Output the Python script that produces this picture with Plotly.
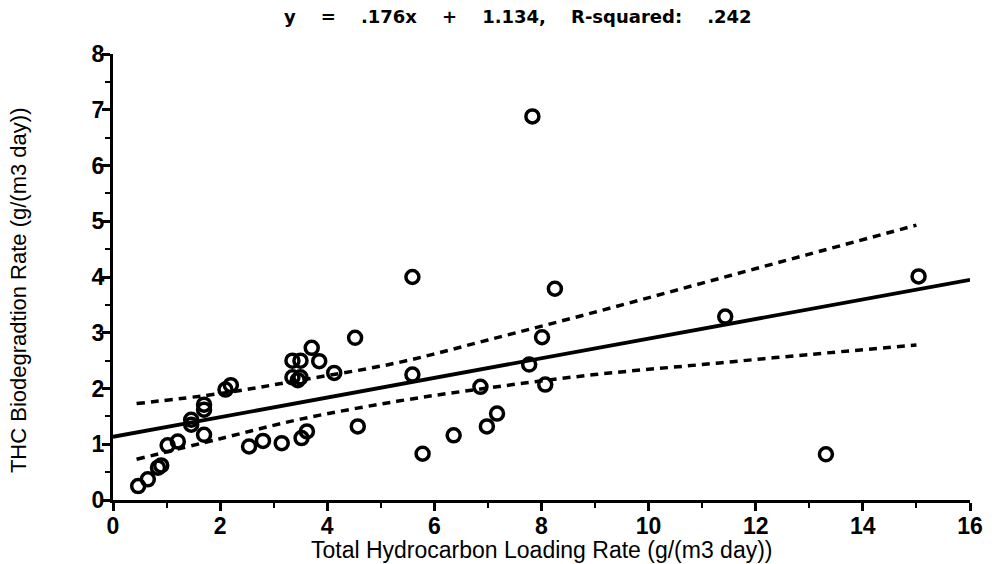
import plotly.graph_objects as go

# Observed loading vs. biodegradation rates
loading_rate = [0.47, 0.65, 0.84, 0.90, 1.02, 1.21, 1.46, 1.46, 1.70, 1.70, 1.70,
                2.10, 2.20, 2.54, 2.80, 3.15, 3.35, 3.50, 3.35, 3.45, 3.50,
                3.52, 3.62, 3.71, 3.85, 4.13, 4.52, 4.57, 5.59, 5.59, 5.78,
                6.36, 6.86, 6.98, 7.17, 7.77, 7.83, 8.01, 8.07, 8.25,
                11.43, 13.31, 15.04]
biodeg_rate = [0.25, 0.37, 0.58, 0.62, 0.98, 1.05, 1.35, 1.44, 1.17, 1.62, 1.71,
               1.98, 2.06, 0.96, 1.06, 1.02, 2.50, 2.50, 2.20, 2.15, 2.20,
               1.11, 1.23, 2.73, 2.49, 2.28, 2.91, 1.32, 4.00, 2.25, 0.83,
               1.16, 2.03, 1.32, 1.55, 2.43, 6.88, 2.92, 2.07, 3.79,
               3.29, 0.82, 4.01]

# Least-squares fit reported in the title
slope = 0.176
intercept = 1.134
r_squared = 0.242
fit_x = [0, 16]

# 95% confidence limits of the fitted line
band_x = [0.44, 2.0, 3.5, 5.3, 7.0, 9.0, 11.0, 13.0, 15.0]
band_upper = [1.73, 1.91, 2.15, 2.46, 2.87, 3.37, 3.89, 4.41, 4.93]
band_lower = [0.73, 1.10, 1.45, 1.77, 2.01, 2.25, 2.43, 2.61, 2.78]

x_ticks = list(range(0, 17, 2))
y_ticks = list(range(0, 9))

x_title = "Total Hydrocarbon Loading Rate (g/(m3 day))"
y_title = "THC Biodegradtion Rate (g/(m3 day))"

fit_y = [slope * v + intercept for v in fit_x]


def fmt(v):
    # values printed without the leading zero, e.g. .176
    return f"{v:.3f}".lstrip("0")


gap = "\u00a0" * 4
title = (f"y{gap}={gap}{fmt(slope)}x{gap}+{gap}{intercept:.3f},"
         f"{gap}R-squared:{gap}{fmt(r_squared)}")

fig = go.Figure()

dash = "8px,6px"
for band in (band_upper, band_lower):
    fig.add_trace(go.Scatter(x=band_x, y=band, mode="lines",
                             line=dict(color="black", width=3.5, dash=dash),
                             line_shape="spline", hoverinfo="skip"))
fig.add_trace(go.Scatter(x=fit_x, y=fit_y, mode="lines",
                         line=dict(color="black", width=3.8)))
fig.add_trace(go.Scatter(x=loading_rate, y=biodeg_rate, mode="markers",
                         marker=dict(symbol="circle-open", size=13, color="black",
                                     line=dict(width=3.5, color="black"))))

tick_font = dict(size=23, family="Liberation Sans, Arial, sans-serif", weight="bold")

fig.update_layout(
    width=995, height=564,
    margin=dict(l=113, r=18, t=54, b=64),
    paper_bgcolor="white", plot_bgcolor="white",
    showlegend=False,
    font=dict(family="Liberation Sans, Arial, sans-serif", color="black"),
    annotations=[
        dict(text=title, xref="paper", yref="paper", x=0.472, y=1.085,
             xanchor="center", yanchor="middle", showarrow=False,
             font=dict(size=18, family="DejaVu Sans, sans-serif", weight="bold")),
        dict(text=x_title, xref="paper", yref="paper", x=0.5, y=-0.112,
             xanchor="center", yanchor="middle", showarrow=False,
             font=dict(size=23, family="Liberation Sans, Arial, sans-serif")),
        dict(text=y_title, xref="paper", yref="paper", x=-0.11, y=0.47,
             xanchor="center", yanchor="middle", showarrow=False, textangle=-90,
             font=dict(size=22, family="Liberation Sans, Arial, sans-serif")),
    ],
)

fig.update_xaxes(
    range=[0, 16], tickvals=x_ticks, ticktext=[str(v) for v in x_ticks],
    showline=True, linewidth=3, linecolor="black",
    ticks="outside", ticklen=8, tickwidth=2.5, tickcolor="black",
    minor=dict(dtick=1, ticks="outside", ticklen=5, tickwidth=2, tickcolor="black"),
    showgrid=False, zeroline=False, tickfont=tick_font, ticklabelstandoff=-5,
)
fig.update_yaxes(
    range=[0, 8], tickvals=y_ticks, ticktext=[str(v) for v in y_ticks],
    showline=True, linewidth=3, linecolor="black",
    ticks="outside", ticklen=8, tickwidth=2.5, tickcolor="black",
    minor=dict(dtick=0.5, ticks="outside", ticklen=5, tickwidth=2, tickcolor="black"),
    showgrid=False, zeroline=False, tickfont=tick_font, ticklabelstandoff=-7,
)

fig.write_html("out.html")
